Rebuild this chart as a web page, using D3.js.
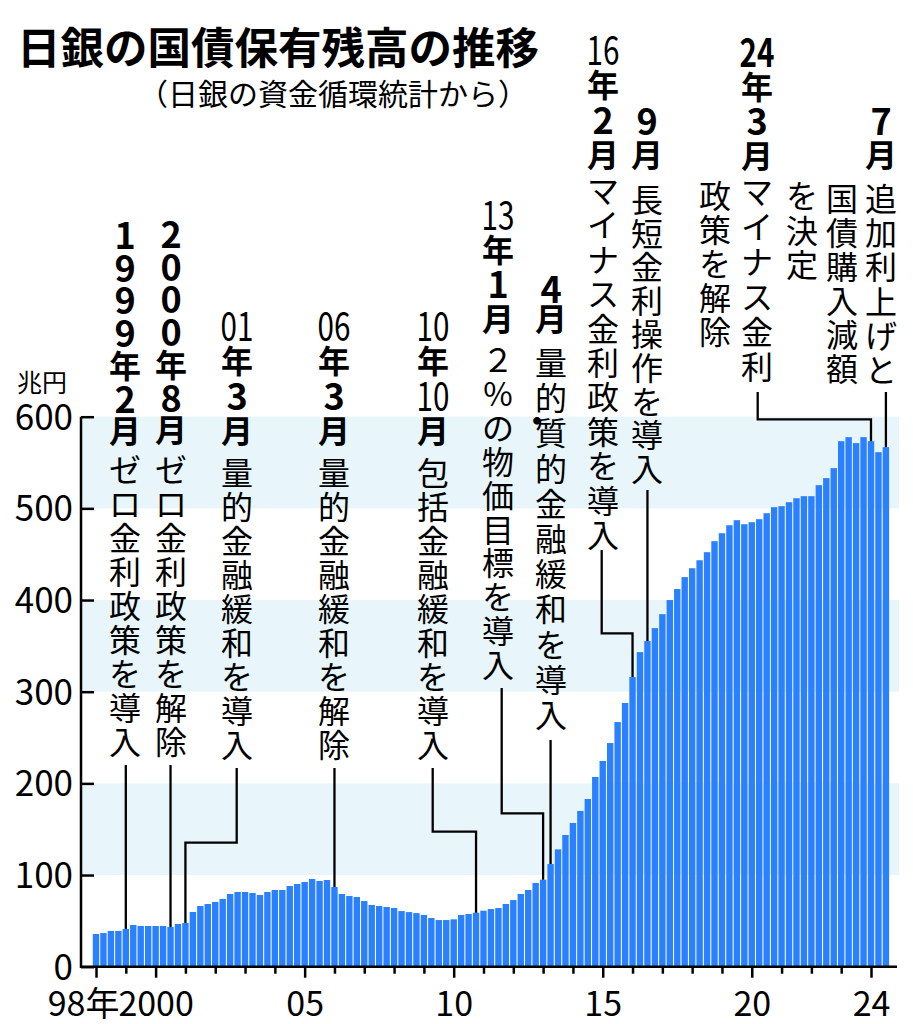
<!DOCTYPE html>
<html lang="ja">
<head>
<meta charset="utf-8">
<script src="https://cdn.jsdelivr.net/npm/d3@7"></script>
<style>
  body { margin: 0; background: #fff; }
  svg text { font-family: "Noto Sans CJK JP", "Noto Sans", sans-serif; fill: #000; }
</style>
</head>
<body>
<div id="chart"></div>
<script>
// quarterly BOJ JGB holdings, trillion yen, from 1998 Q1
const startYear = 1998;
const holdings = [
  35.7, 36.7, 39, 39,          // 1998
  41.2, 45.5, 44.4, 44.4,      // 1999
  44.4, 44.4, 43.3, 46.6,      // 2000
  47.7, 59.7, 66.2, 68.4,      // 2001
  70.6, 73.9, 79.3, 81.5,      // 2002
  81.5, 80.4, 78.2, 81.5,      // 2003
  83.7, 83.7, 88, 90.2,        // 2004
  92.4, 95.7, 93.5, 94.6,      // 2005
  87, 79.3, 77.1, 76,          // 2006
  71.6, 67.3, 66.2, 65.1,      // 2007
  64, 60.7, 59.6, 58.5,        // 2008
  56.4, 53.1, 50.9, 50.9,      // 2009
  51.7, 56.4, 57.5, 58.9,      // 2010
  61.1, 62.9, 64, 68.4,        // 2011
  72.7, 79.3, 83.7, 91.3,      // 2012
  94.9, 112, 128, 143.7,       // 2013
  156.8, 169.9, 183, 207,      // 2014
  224.4, 244, 266.9, 287.7,    // 2015
  316, 343.2, 355.2, 369.4,    // 2016
  384.6, 400, 412, 425,        // 2017
  434.7, 443.4, 452.2, 464.2,  // 2018
  472.9, 481.6, 487.1, 482.7,  // 2019
  484.9, 488.2, 494.7, 501.3,  // 2020
  502.4, 506.7, 511.1, 513.3,  // 2021
  513.3, 525.3, 533, 543.9,    // 2022
  573.3, 577.7, 571.2, 577.7,  // 2023
  573.3, 561.3, 566.8          // 2024
];

const yTicks = [0, 100, 200, 300, 400, 500, 600];
const bands = [[100, 200], [300, 400], [500, 600]];
const xTickYears = d3.range(1998, 2025);
const xLabels = {1998: "98年", 2000: "2000", 2005: "05", 2010: "10", 2015: "15", 2020: "20", 2024: "24"};

const title = "日銀の国債保有残高の推移";
const subtitle = "（日銀の資金循環統計から）";
const unit = "兆円";

// vertical annotation columns
const notes = [
  {x: 125, y: 233, step: 32.7, bold: true, t: ["1","9","9","9","年","2","月"]},
  {x: 125, y: 468, step: 34, t: "ゼロ金利政策を導入"},
  {x: 171, y: 232, step: 32.7, bold: true, t: ["2","0","0","0","年","8","月"]},
  {x: 171, y: 468, step: 34, t: "ゼロ金利政策を解除"},
  {x: 237, y: 324, step: 35, bold: true, t: ["01","年","3","月"]},
  {x: 237, y: 471, step: 34, t: "量的金融緩和を導入"},
  {x: 334, y: 324, step: 35, bold: true, t: ["06","年","3","月"]},
  {x: 334, y: 471, step: 34, t: "量的金融緩和を解除"},
  {x: 433, y: 324, step: 35, bold: true, t: ["10","年","10","月"]},
  {x: 433, y: 471, step: 34, t: "包括金融緩和を導入"},
  {x: 498, y: 213, step: 34.5, bold: true, t: ["13","年","1","月"]},
  {x: 498, y: 358, step: 33.9, t: "２%の物価目標を導入"},
  {x: 551, y: 287, step: 30, bold: true, t: ["4","月"]},
  {x: 551, y: 361, step: 35.2, t: ["量","的","·質","的","金","融","緩","和","を","導","入"]},
  {x: 603, y: 48, step: 35, bold: true, t: ["16","年","2","月"]},
  {x: 603, y: 189, step: 34.4, t: "マイナス金利政策を導入"},
  {x: 647, y: 119, step: 34, bold: true, t: ["9","月"]},
  {x: 647, y: 198, step: 33.6, t: "長短金利操作を導入"},
  {x: 757, y: 50, step: 34.5, bold: true, tcyBold: true, t: ["24","年","3","月"]},
  {x: 757, y: 190, step: 35, t: "マイナス金利"},
  {x: 715, y: 194, step: 34, t: "政策を解除"},
  {x: 881, y: 119, step: 34, bold: true, t: ["7","月"]},
  {x: 881, y: 197, step: 34.2, t: "追加利上げと"},
  {x: 842, y: 197, step: 34, t: "国債購入減額"},
  {x: 802, y: 194, step: 34.5, t: "を決定"}
];

// leader lines: from text column down to the bar (index into holdings)
const leaders = [
  {bar: 4, y0: 765},
  {bar: 10, y0: 765},
  {bar: 12, y0: 768, cx: 236.7, ey: 842.7},
  {bar: 32, y0: 768},
  {bar: 51, y0: 768, cx: 432.7, ey: 831.7},
  {bar: 60, y0: 688, cx: 501.7, ey: 813.3},
  {bar: 61, y0: 740},
  {bar: 72, y0: 550, cx: 601.7, ey: 633.3},
  {bar: 74, y0: 490},
  {bar: 104, y0: 392, cx: 757.7, ey: 419.3},
  {bar: 106, y0: 392}
];

const width = 913, height = 1024;
const svg = d3.select("#chart").append("svg")
    .attr("width", width)
    .attr("height", height);

const x = d3.scaleLinear().domain([1998, 2024]).range([96, 871]);
const y = d3.scaleLinear().domain([0, 600]).range([966.7, 416.7]);
const barW = 6.4;
const when = i => startYear + i / 4;

// shaded bands
svg.append("g")
    .selectAll("rect")
    .data(bands)
    .join("rect")
    .attr("x", 82)
    .attr("width", 817)
    .attr("y", d => y(d[1]))
    .attr("height", d => y(d[0]) - y(d[1]))
    .attr("fill", "#e8f6fb");

// bars
svg.append("g")
    .selectAll("rect")
    .data(holdings)
    .join("rect")
    .attr("x", (d, i) => x(when(i)) - barW / 2)
    .attr("width", barW)
    .attr("y", d => y(d))
    .attr("height", d => y(0) - y(d))
    .attr("fill", "#2a80ff");

// y axis
let yAxis = d3.axisLeft(y)
    .tickValues(yTicks)
    .tickSizeInner(-13)
    .tickSizeOuter(0)
    .tickPadding(8);

svg.append("g")
    .attr("transform", "translate(81,0)")
    .call(yAxis)
    .attr("font-family", null)
    .attr("font-size", 35)
    .call(g => g.select(".domain").remove())
    .call(g => g.selectAll("line").attr("stroke", "#000").attr("stroke-width", 2.5))
    .call(g => g.selectAll("text").attr("fill", "#000").attr("dy", "0.36em"));

// x axis
let xAxis = d3.axisBottom(x)
    .tickValues(xTickYears)
    .tickSizeInner(7)
    .tickSizeOuter(0)
    .tickPadding(18)
    .tickFormat(d => xLabels[d] || "");

svg.append("g")
    .attr("transform", `translate(0,${y(0)})`)
    .call(xAxis)
    .attr("font-family", null)
    .attr("font-size", 34)
    .call(g => g.select(".domain").remove())
    .call(g => g.selectAll("line")
        .attr("stroke", "#000")
        .attr("stroke-width", 2.5)
        .attr("y2", d => xLabels[d] ? 11 : 7))
    .call(g => g.selectAll("text")
        .attr("fill", "#000")
        .filter(d => d === 1998)
        .attr("text-anchor", "end")
        .attr("dx", 23));

// axis lines
svg.append("line")
    .attr("x1", 81).attr("x2", 81)
    .attr("y1", y(600)).attr("y2", y(0) + 1.2)
    .attr("stroke", "#000").attr("stroke-width", 2.5);
svg.append("line")
    .attr("x1", 80).attr("x2", 897)
    .attr("y1", y(0)).attr("y2", y(0))
    .attr("stroke", "#000").attr("stroke-width", 2.5);

// leader lines
svg.append("g")
    .selectAll("path")
    .data(leaders)
    .join("path")
    .attr("fill", "none")
    .attr("stroke", "#000")
    .attr("stroke-width", 2.3)
    .attr("d", d => {
        let bx = x(when(d.bar)), by = y(holdings[d.bar]);
        if (d.cx != null) {
            return `M${d.cx},${d.y0}V${d.ey}H${bx}V${by}`;
        }
        return `M${bx},${d.y0}V${by}`;
    });

// vertical text
let noteG = svg.append("g");
notes.forEach(col => {
    let toks = typeof col.t === "string" ? Array.from(col.t) : col.t;
    toks.forEach((tk, k) => {
        let cy = col.y + k * col.step;
        if (/^\d\d$/.test(tk)) {
            // two digits set side by side in one cell, squeezed
            noteG.append("text")
                .attr("transform", `translate(${col.x},${cy}) scale(0.76,1)`)
                .attr("text-anchor", "middle")
                .attr("dominant-baseline", "central")
                .attr("font-size", 39)
                .attr("font-weight", col.tcyBold ? 700 : 400)
                .text(tk);
        } else if (tk.length === 2 && tk[0] === "·") {
            noteG.append("text")
                .attr("x", col.x)
                .attr("y", cy)
                .attr("text-anchor", "middle")
                .attr("dominant-baseline", "central")
                .attr("font-size", 32)
                .text(tk[1]);
            noteG.append("text")
                .attr("x", col.x - 14)
                .attr("y", cy - 12)
                .attr("text-anchor", "middle")
                .attr("dominant-baseline", "central")
                .attr("font-size", 30)
                .attr("font-weight", 700)
                .text("・");
        } else {
            let digit = /^\d$/.test(tk);
            noteG.append("text")
                .attr("x", col.x)
                .attr("y", cy)
                .attr("text-anchor", "middle")
                .attr("dominant-baseline", "central")
                .attr("font-size", digit && col.bold ? 36 : 32)
                .attr("font-weight", col.bold ? 700 : 400)
                .text(tk);
        }
    });
});

// title etc
svg.append("text")
    .attr("x", 17)
    .attr("y", 45)
    .attr("dominant-baseline", "central")
    .attr("font-size", 43.5)
    .attr("font-weight", 700)
    .text(title);

svg.append("text")
    .attr("x", 138)
    .attr("y", 92)
    .attr("dominant-baseline", "central")
    .attr("font-size", 30)
    .text(subtitle);

svg.append("text")
    .attr("x", 17)
    .attr("y", 381)
    .attr("dominant-baseline", "central")
    .attr("font-size", 25)
    .text(unit);
</script>
</body>
</html>
